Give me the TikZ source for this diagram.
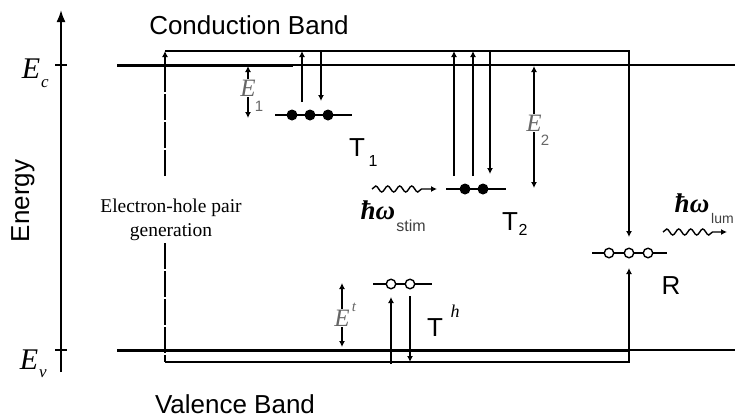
\documentclass[tikz,border=0pt]{standalone}
\usepackage{fontspec}
\setmainfont{Liberation Serif}
\setsansfont{Liberation Sans}
\usetikzlibrary{arrows.meta,decorations.pathmorphing}
\begin{document}
\begin{tikzpicture}[x=1pt,y=-1pt,
  thinline/.style={line width=1.4pt},
  band/.style={line width=3pt},
  arr/.style={line width=1.4pt,-{Latex[length=6pt,width=6pt]}},
  darr/.style={line width=1.4pt,{Latex[length=6pt,width=6pt]}-{Latex[length=6pt,width=6pt]}},
  gen/.style={dash pattern=on 26pt off 2pt},
  trapfull/.style={circle,fill=black,inner sep=0pt,minimum size=11pt},
  trapempty/.style={circle,draw=black,fill=white,line width=1.4pt,inner sep=0pt,minimum size=9.5pt},
  bigsans/.style={font=\sffamily\fontsize{26}{30}\selectfont,inner sep=0pt},
  subsans/.style={font=\sffamily\fontsize{16}{18}\selectfont,inner sep=0pt},
  elabel/.style={font=\itshape\fontsize{25}{28}\selectfont,text=black!60,fill=white,inner sep=1pt},
  sublabel/.style={font=\sffamily\fontsize{15}{17}\selectfont,text=black!60,inner sep=0pt},
  photon/.style={font=\bfseries\itshape\fontsize{27}{30}\selectfont,inner sep=0pt},
  wave/.style={line width=1.4pt,-{Latex[length=6pt,width=6pt]},decorate,
    decoration={snake,amplitude=3pt,segment length=12pt,post length=12pt}}
]
\useasboundingbox (0,0) rectangle (735,418);

% energy axis
\coordinate (axb) at (61,372);
\coordinate (axt) at (61,10);
\draw[line width=1.8pt,-{Latex[length=12pt,width=9pt]}] (axb) -- (axt);
\coordinate (tc1) at (55,65); \coordinate (tc2) at (67,65);
\coordinate (tv1) at (55,350); \coordinate (tv2) at (67,350);
\draw[thinline] (tc1) -- (tc2);
\draw[thinline] (tv1) -- (tv2);
\node[font=\itshape\fontsize{30}{32}\selectfont,inner sep=0pt] (Ec) at (31,69) {E};
\node[font=\itshape\fontsize{17}{18}\selectfont,inner sep=0pt] (Ecs) at (45,84) {c};
\node[font=\itshape\fontsize{30}{32}\selectfont,inner sep=0pt] (Ev) at (29,360) {E};
\node[font=\itshape\fontsize{17}{18}\selectfont,inner sep=0pt] (Evs) at (43,374) {v};
\node[bigsans,rotate=90] (energy) at (23,201) {Energy};

% bands
\coordinate (cb0) at (117,65); \coordinate (cb1) at (293,65); \coordinate (cb2) at (735,65);
\coordinate (vb0) at (117,350); \coordinate (vb1) at (629,350); \coordinate (vb2) at (735,350);
\draw[band] (cb0) -- (cb1);
\draw[thinline] (cb1) -- (cb2);
\draw[band] (vb0) -- (vb1);
\draw[thinline] (vb1) -- (vb2);
\node[bigsans] (cband) at (249,25) {Conduction Band};
\node[bigsans] (vband) at (235,404) {Valence Band};

% generation / recombination loop
\coordinate (gt) at (165,176);
\coordinate (tl) at (165,51);
\coordinate (tr) at (629,51);
\coordinate (gb) at (165,243);
\coordinate (bl) at (165,362);
\coordinate (br) at (629,362);
\node[font=\fontsize{19.5}{24}\selectfont,align=center,inner sep=0pt] (genlabel) at (171,220) {Electron-hole pair\\generation};
\draw[arr,gen] (gt) -- (tl);
\draw[thinline,gen] (gb) -- (bl);

% R centre
\draw[thinline] (592,253) -- (667,253);
\node[trapempty] (r1) at (609,253) {};
\node[trapempty] (r2) at (629,253) {};
\node[trapempty] (r3) at (648,253) {};
\coordinate (rtop) at (629,237);
\coordinate (rbot) at (629,268);
\draw[arr] (tl) -- (tr) -- (rtop);
\draw[arr] (bl) -- (br) -- (rbot);
\node[bigsans] (R) at (671,286) {R};

% T1
\draw[thinline] (275,115) -- (352,115);
\node[trapfull] (t11) at (292,115) {};
\node[trapfull] (t12) at (310,115) {};
\node[trapfull] (t13) at (328,115) {};
\coordinate (a1s) at (302,102); \coordinate (a1e) at (302,51);
\coordinate (a2s) at (321,51); \coordinate (a2e) at (321,101);
\draw[arr] (a1s) -- (a1e);
\draw[arr] (a2s) -- (a2e);
\node[bigsans] (T1) at (357,148) {T};
\node[subsans] (T1s) at (373,161) {1};

% E1
\coordinate (e1t) at (248,66); \coordinate (e1b) at (248,118);
\draw[darr] (e1t) -- (e1b);
\node[elabel] (E1) at (248,88) {E};
\node[sublabel] (E1s) at (259,106) {1};

% T2
\draw[thinline] (446,189) -- (506,189);
\node[trapfull] (t21) at (465,189) {};
\node[trapfull] (t22) at (483,189) {};
\coordinate (b1s) at (454,176); \coordinate (b1e) at (454,51);
\coordinate (b2s) at (473,176); \coordinate (b2e) at (473,51);
\coordinate (b3s) at (490,51); \coordinate (b3e) at (490,174);
\draw[arr] (b1s) -- (b1e);
\draw[arr] (b2s) -- (b2e);
\draw[arr] (b3s) -- (b3e);
\node[bigsans] (T2) at (510,222) {T};
\node[subsans] (T2s) at (523,230) {2};

% E2
\coordinate (e2t) at (534,66); \coordinate (e2b) at (534,188);
\draw[darr] (e2t) -- (e2b);
\node[elabel] (E2) at (534,123) {E};
\node[sublabel] (E2s) at (545,140) {2};

% stimulated photon
\coordinate (w1s) at (372,189); \coordinate (w1e) at (437,189);
\draw[wave] (w1s) -- (w1e);
\node[photon] (hw1) at (378,210) {ħω};
\node[subsans,text=black!75] (stim) at (411,226) {stim};

% luminescence photon
\coordinate (w2s) at (663,232); \coordinate (w2e) at (727,232);
\draw[wave] (w2s) -- (w2e);
\node[photon] (hw2) at (692,203) {ħω};
\node[font=\sffamily\fontsize{14}{16}\selectfont,inner sep=0pt,text=black!75,anchor=west] (lum) at (711,218) {lum};

% Th
\draw[thinline] (373,284) -- (432,284);
\node[trapempty] (h1) at (391,284) {};
\node[trapempty] (h2) at (410,284) {};
\coordinate (c1s) at (391,364); \coordinate (c1e) at (391,297);
\coordinate (c2s) at (410,296); \coordinate (c2e) at (410,362);
\draw[arr] (c1s) -- (c1e);
\draw[arr] (c2s) -- (c2e);
\node[bigsans] (Th) at (435,328) {T};
\node[font=\itshape\fontsize{18}{20}\selectfont,inner sep=0pt] (Ths) at (455,311) {h};

% Et
\coordinate (ett) at (342,283); \coordinate (etb) at (342,347);
\draw[darr] (ett) -- (etb);
\node[elabel] (Et) at (342,318) {E};
\node[font=\itshape\fontsize{15}{17}\selectfont,text=black!60,inner sep=0pt] (Ets) at (354,307) {t};
\end{tikzpicture}
\end{document}
